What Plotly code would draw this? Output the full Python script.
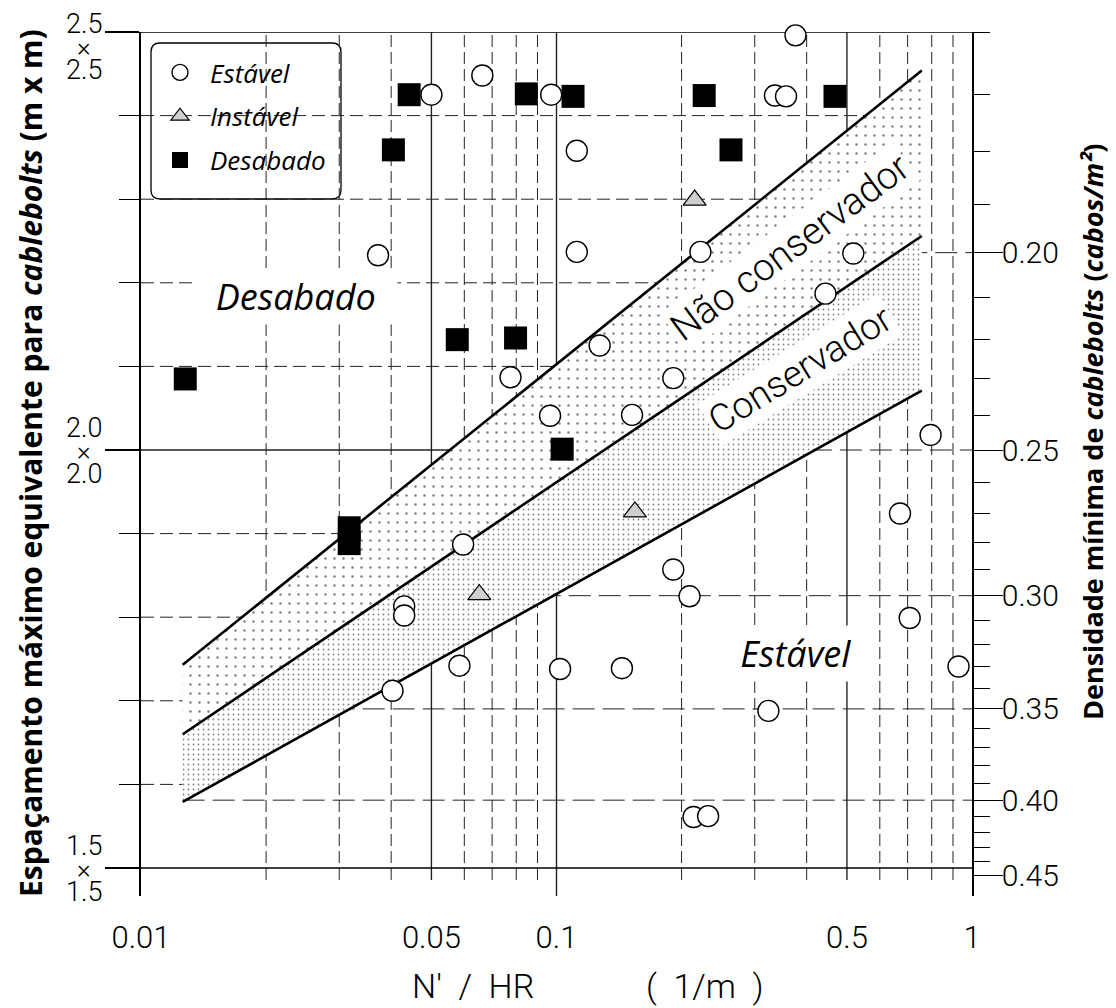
import numpy as np
import plotly.graph_objects as go

# ---------------- data ----------------
estavel_x = [0.0500, 0.0663, 0.0971, 0.1119, 0.1119, 0.376, 0.3356, 0.3568, 0.222, 0.518,
             0.444, 0.0372, 0.127, 0.0775, 0.191, 0.0965, 0.152, 0.795, 0.671, 0.0596,
             0.191, 0.209, 0.708, 0.043, 0.043, 0.0403, 0.0584, 0.102, 0.1437, 0.3236,
             0.2137, 0.2317, 0.928]
estavel_y = [2.425, 2.448, 2.425, 2.358, 2.237, 2.496, 2.424, 2.423, 2.237, 2.235,
             2.187, 2.233, 2.125, 2.087, 2.086, 2.041, 2.042, 2.018, 1.924, 1.887,
             1.857, 1.825, 1.799, 1.813, 1.802, 1.712, 1.742, 1.738, 1.739, 1.688,
             1.561, 1.562, 1.741]

instavel_x = [0.0652, 0.1544, 0.215]
instavel_y = [1.827, 1.926, 2.299]

desabado_x = [0.01278, 0.0317, 0.0317, 0.0405, 0.0442, 0.0577, 0.0797, 0.0846, 0.1032,
              0.1096, 0.2267, 0.263, 0.468]
desabado_y = [2.085, 1.907, 1.888, 2.359, 2.425, 2.132, 2.134, 2.426, 2.001,
              2.423, 2.424, 2.359, 2.423]

# design boundary lines: N'/HR end points and spacing at each end
band_x = [0.0126, 0.757]
limite_superior = [1.743, 2.454]
limite_medio = [1.660, 2.256]
limite_inferior = [1.579, 2.071]

# axes
x_range = [0.01, 1.0]
xtick_vals = [0.01, 0.05, 0.1, 0.5, 1]
xtick_text = ["0.01", "0.05", "0.1", "0.5", "1"]
x_grid_solid = [0.05, 0.5]
x_grid_dashed = [0.02, 0.03, 0.04, 0.06, 0.07, 0.08, 0.09, 0.2, 0.3, 0.4, 0.6, 0.7, 0.8, 0.9]
x_grid_major = [0.1]
espac_major = [1.5, 2.0, 2.5]
espac_minor = [1.6, 1.7, 1.8, 1.9, 2.1, 2.2, 2.3, 2.4]
espac_labels = ["1.5", "2.0", "2.5"]
dens_all = [round(0.16 + 0.01 * i, 2) for i in range(30)]
dens_major = [0.20, 0.25, 0.30, 0.35, 0.40, 0.45]
dens_lines = [0.20, 0.25, 0.30, 0.35, 0.40]

# ---------------- helpers ----------------
PX_PER_UNIT = 836.0          # pixels per metre of spacing
Y_LOW = 1.5 - 28 / PX_PER_UNIT
Y_HIGH = 2.5
OFF = 8                      # page body margin


def s_of_d(d):
    return 1.0 / np.sqrt(d)


def x_at_upper(yv):
    t = (yv - limite_superior[0]) / (limite_superior[1] - limite_superior[0])
    t = min(max(t, 0.0), 1.0)
    lx0, lx1 = np.log10(band_x[0]), np.log10(band_x[1])
    return 10 ** (lx0 + t * (lx1 - lx0))


GRID = "#222222"
THIN = "Roboto"
shapes = []

# vertical grid lines
for v in x_grid_dashed:
    shapes.append(dict(type="line", xref="x", yref="y", x0=v, x1=v,
                       y0=1.5 - 12 / PX_PER_UNIT, y1=2.5, layer="below",
                       line=dict(color=GRID, width=1, dash="12px,5px")))
for v in x_grid_solid:
    shapes.append(dict(type="line", xref="x", yref="y", x0=v, x1=v,
                       y0=1.5 - 12 / PX_PER_UNIT, y1=2.5, layer="below",
                       line=dict(color=GRID, width=1.4)))
for v in x_grid_major:
    shapes.append(dict(type="line", xref="x", yref="y", x0=v, x1=v,
                       y0=Y_LOW, y1=2.5, layer="below",
                       line=dict(color=GRID, width=1.4)))
# frame lines at 2.5 and 1.5
for v in [1.5, 2.5]:
    shapes.append(dict(type="line", xref="x", yref="y", x0=x_range[0], x1=x_range[1],
                       y0=v, y1=v, layer="below", line=dict(color="black", width=1.5)))
# spacing grid lines (left side, stop at the band)
for v in espac_minor + [2.0]:
    solid = abs(v - 2.0) < 1e-9
    shapes.append(dict(type="line", xref="x", yref="y", x0=x_range[0], x1=x_at_upper(v),
                       y0=v, y1=v, layer="below",
                       line=dict(color=GRID, width=1.4 if solid else 1,
                                 dash="solid" if solid else "13px,6px")))
# density grid lines (right side)
for d in dens_lines:
    sv = s_of_d(d)
    shapes.append(dict(type="line", xref="x", yref="y", x0=x_at_upper(sv), x1=x_range[1],
                       y0=sv, y1=sv, layer="below",
                       line=dict(color=GRID, width=1, dash="22px,8px")))

# legend box (rounded)
W, H = 831.0, 864.0
def px2paper(px, py):
    return (px - 141) / W, (896 - py) / H
lx0, ly1 = px2paper(151, 43)
lx1, ly0 = px2paper(341, 199)
rx, ry = 9 / W, 9 / H
path = (f"M {lx0+rx},{ly1} L {lx1-rx},{ly1} Q {lx1},{ly1} {lx1},{ly1-ry} "
        f"L {lx1},{ly0+ry} Q {lx1},{ly0} {lx1-rx},{ly0} L {lx0+rx},{ly0} "
        f"Q {lx0},{ly0} {lx0},{ly0+ry} L {lx0},{ly1-ry} Q {lx0},{ly1} {lx0+rx},{ly1} Z")
shapes.append(dict(type="path", xref="paper", yref="paper", path=path, layer="below",
                   fillcolor="white", line=dict(color="black", width=1.3)))

fig = go.Figure()

# band fills
fig.add_trace(go.Scatter(
    x=[band_x[0], band_x[1], band_x[1], band_x[0]],
    y=[limite_superior[0], limite_superior[1], limite_medio[1], limite_medio[0]],
    mode="none", fill="toself", fillcolor="white",
    fillpattern=dict(shape=".", fgcolor="black", bgcolor="white", size=9, solidity=0.06),
    showlegend=False, hoverinfo="skip"))
fig.add_trace(go.Scatter(
    x=[band_x[0], band_x[1], band_x[1], band_x[0]],
    y=[limite_medio[0], limite_medio[1], limite_inferior[1], limite_inferior[0]],
    mode="none", fill="toself", fillcolor="white",
    fillpattern=dict(shape=".", fgcolor="black", bgcolor="white", size=5, solidity=0.1),
    showlegend=False, hoverinfo="skip"))
for yy in [limite_superior, limite_medio, limite_inferior]:
    fig.add_trace(go.Scatter(x=band_x, y=yy, mode="lines",
                             line=dict(color="black", width=2.6),
                             showlegend=False, hoverinfo="skip"))

# data markers
fig.add_trace(go.Scatter(x=estavel_x, y=estavel_y, mode="markers", name="Estável",
                         legendgroup="a",
                         marker=dict(symbol="circle", size=21, color="white",
                                     line=dict(color="black", width=1.4)),
                         cliponaxis=False))
fig.add_trace(go.Scatter(x=instavel_x, y=instavel_y, mode="markers", name="Instável",
                         legendgroup="b",
                         marker=dict(symbol="triangle-up", size=20, color="#cfcfcf",
                                     line=dict(color="black", width=1.2)),
                         cliponaxis=False))
fig.add_trace(go.Scatter(x=desabado_x, y=desabado_y, mode="markers", name="Desabado",
                         legendgroup="c",
                         marker=dict(symbol="square", size=23, color="black",
                                     line=dict(color="black", width=0)),
                         cliponaxis=False))
# carrier for the right axis
fig.add_trace(go.Scatter(x=[band_x[0]], y=[limite_medio[0]], yaxis="y2", mode="none",
                         showlegend=False, hoverinfo="skip"))

annotations = []
# left tick labels "2.5 × 2.5"
for v, lab in zip(espac_major, espac_labels):
    base = -14 if v == 2.5 else 0
    for txt, sh, fs in [(lab, 22, 27), ("×", -1, 26), (lab, -24, 27)]:
        annotations.append(dict(xref="paper", yref="y", x=(84 - 141) / W, y=v,
                                yshift=sh + base, text=txt, showarrow=False,
                                xanchor="center", yanchor="middle", borderpad=0,
                                font=dict(family=THIN, size=fs, color="black", weight=300)))

# region labels
annotations += [
    dict(x=np.log10(0.0235), y=2.184, xref="x", yref="y", text="  Desabado  ", showarrow=False,
         font=dict(family="Open Sans", size=36, style="italic", color="black"),
         bgcolor="white", borderpad=3),
    dict(x=np.log10(0.3753), y=1.756, xref="x", yref="y", text=" Estável ", showarrow=False,
         font=dict(family="Open Sans", size=36, style="italic", color="black"),
         bgcolor="white", borderpad=3),
    dict(x=np.log10(0.365), y=2.243, xref="x", yref="y", text="Não conservador",
         showarrow=False, textangle=-36.5,
         font=dict(family=THIN, size=38, color="black", weight=300),
         bgcolor="white", borderpad=1),
    dict(x=np.log10(0.386), y=2.096, xref="x", yref="y", text="Conservador",
         showarrow=False, textangle=-31.6,
         font=dict(family=THIN, size=37, color="black", weight=300),
         bgcolor="white", borderpad=2),
]
# axis titles
annotations += [
    dict(xref="paper", yref="paper", x=(30 - 141) / W, y=(896 - 463) / H,
         text="Espaçamento máximo equivalente para <i>cablebolts</i> (m x m)",
         showarrow=False, textangle=-90, xanchor="center", yanchor="middle",
         font=dict(family="Open Sans", size=30, color="black", weight="bold")),
    dict(xref="paper", yref="paper", x=(1093 - 141) / W, y=(896 - 432) / H,
         text="Densidade mínima de <i>cablebolts</i> (<i>cabos/m²</i>)",
         showarrow=False, textangle=-90, xanchor="center", yanchor="middle",
         font=dict(family="Open Sans", size=27, color="black", weight="bold")),
    dict(xref="paper", yref="paper", x=(473 - 141) / W, y=(896 - 986) / H,
         text="N'  /  HR", showarrow=False, xanchor="center", yanchor="middle",
         font=dict(family=THIN, size=34, color="black", weight=300)),
    dict(xref="paper", yref="paper", x=(705 - 141) / W, y=(896 - 986) / H,
         text="(  1/m  )", showarrow=False, xanchor="center", yanchor="middle",
         font=dict(family=THIN, size=34, color="black", weight=300)),
]

major_s = [s_of_d(d) for d in dens_major]
minor_s = [s_of_d(d) for d in dens_all if not any(abs(d - m) < 1e-9 for m in dens_major)]

fig.update_layout(
    width=1116 - OFF, height=1008 - OFF,
    margin=dict(l=141 - OFF, r=144, t=32 - OFF, b=112),
    paper_bgcolor="white", plot_bgcolor="white",
    showlegend=True,
    legend=dict(x=(150 - 141) / W, y=(896 - 49) / H, xanchor="left", yanchor="top",
                bgcolor="rgba(0,0,0,0)", borderwidth=0, itemwidth=50,
                font=dict(family="Open Sans", size=26, style="italic", color="black"),
                traceorder="grouped", tracegroupgap=7, itemsizing="trace"),
    xaxis=dict(type="log", range=[np.log10(x_range[0]), np.log10(x_range[1])],
               showgrid=False, zeroline=False, showline=False, ticks="",
               tickmode="array", tickvals=xtick_vals, ticktext=xtick_text,
               tickfont=dict(family=THIN, size=31, color="black", weight=300),
               ticklabelstandoff=20),
    yaxis=dict(range=[Y_LOW, Y_HIGH], showgrid=False, zeroline=False,
               showline=True, linecolor="black", linewidth=1.5,
               ticks="outside", tickmode="array", tickvals=espac_major, ticklen=34,
               tickwidth=1.5, tickcolor="black", showticklabels=False,
               minor=dict(tickmode="array", tickvals=espac_minor, ticklen=20,
                          ticks="outside", tickcolor="black", tickwidth=1.2)),
    yaxis2=dict(overlaying="y", side="right", anchor="x", range=[Y_LOW, Y_HIGH],
                showgrid=False, zeroline=False, showline=True, linecolor="black",
                linewidth=1.5, ticks="outside", tickmode="array", tickvals=major_s,
                ticktext=[f"{d:.2f}" for d in dens_major], ticklen=29, tickwidth=1.2,
                tickcolor="black", ticklabelstandoff=-7,
                tickfont=dict(family=THIN, size=30, color="black", weight=300),
                minor=dict(tickmode="array", tickvals=minor_s, ticklen=16,
                           ticks="outside", tickcolor="black", tickwidth=1.2)),
    shapes=shapes,
    annotations=annotations,
)

fig.write_html("out.html")
